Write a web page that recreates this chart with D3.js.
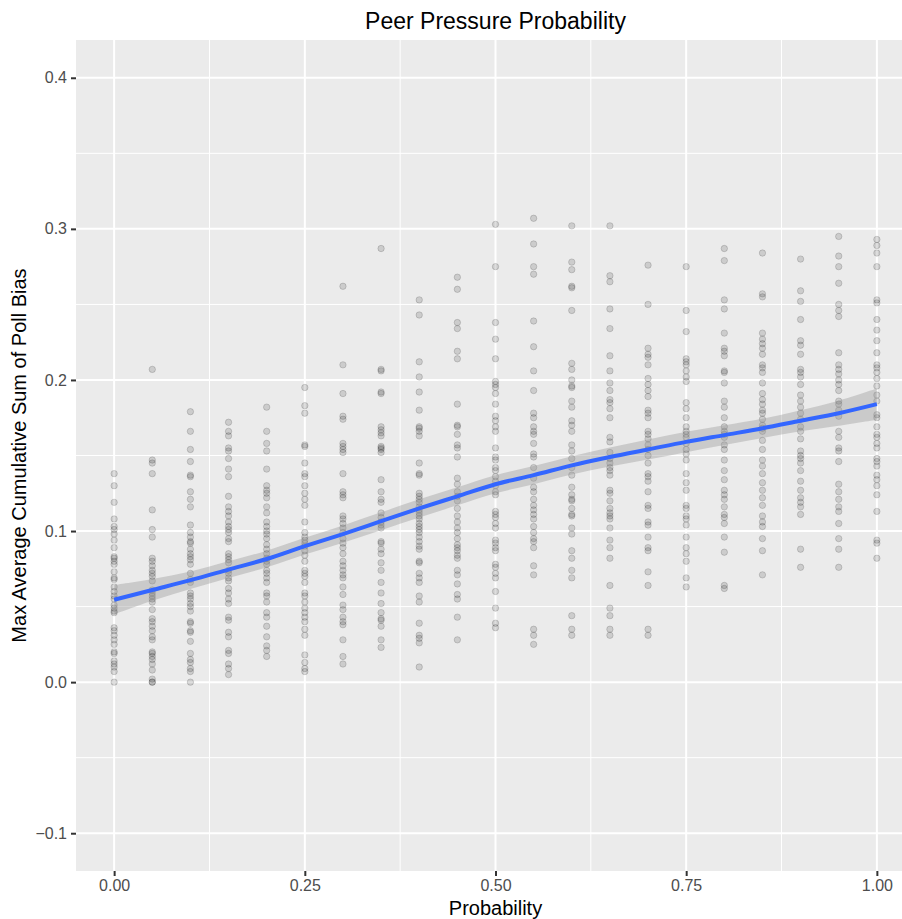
<!DOCTYPE html>
<html>
<head>
<meta charset="utf-8">
<script src="https://cdn.jsdelivr.net/npm/d3@7"></script>
<style>
    body { margin: 0; background: #ffffff; }
    svg { display: block; font-family: "Liberation Sans", Arial, sans-serif; }
</style>
</head>
<body>
<script>
'use strict';

// probability levels on the x axis
const probs = [0.00, 0.05, 0.10, 0.15, 0.20, 0.25, 0.30, 0.35, 0.40, 0.45, 0.50,
    0.55, 0.60, 0.65, 0.70, 0.75, 0.80, 0.85, 0.90, 0.95, 1.00];

// max average cumulative sum of poll bias, one list per probability level
const bias = [
    [0.138, 0.130, 0.119, 0.108, 0.103, 0.101, 0.098, 0.094, 0.089, 0.083, 0.082, 0.080, 0.078, 0.073, 0.069, 0.068, 0.063, 0.060, 0.057, 0.055, 0.051, 0.049, 0.047, 0.046, 0.036, 0.034, 0.031, 0.028, 0.025, 0.020, 0.019, 0.014, 0.012, 0.010, 0.007, 0.000],
    [0.207, 0.147, 0.145, 0.138, 0.114, 0.101, 0.096, 0.082, 0.080, 0.077, 0.074, 0.072, 0.070, 0.067, 0.061, 0.059, 0.057, 0.055, 0.053, 0.048, 0.042, 0.040, 0.037, 0.034, 0.030, 0.028, 0.020, 0.019, 0.017, 0.015, 0.012, 0.008, 0.002, 0.000, 0.000],
    [0.179, 0.166, 0.154, 0.146, 0.137, 0.136, 0.126, 0.121, 0.116, 0.104, 0.099, 0.096, 0.093, 0.092, 0.088, 0.085, 0.083, 0.081, 0.078, 0.072, 0.068, 0.066, 0.059, 0.057, 0.055, 0.052, 0.050, 0.047, 0.040, 0.039, 0.034, 0.033, 0.027, 0.019, 0.015, 0.013, 0.009, 0.007, 0.000],
    [0.172, 0.166, 0.163, 0.155, 0.153, 0.148, 0.141, 0.136, 0.123, 0.116, 0.113, 0.110, 0.106, 0.103, 0.101, 0.099, 0.095, 0.093, 0.085, 0.083, 0.081, 0.079, 0.074, 0.072, 0.069, 0.067, 0.062, 0.059, 0.055, 0.052, 0.043, 0.041, 0.033, 0.030, 0.021, 0.019, 0.012, 0.009, 0.005],
    [0.182, 0.166, 0.158, 0.153, 0.141, 0.130, 0.127, 0.125, 0.122, 0.116, 0.112, 0.106, 0.103, 0.100, 0.098, 0.095, 0.091, 0.088, 0.085, 0.082, 0.080, 0.078, 0.074, 0.072, 0.069, 0.066, 0.059, 0.057, 0.053, 0.046, 0.043, 0.037, 0.030, 0.024, 0.021, 0.017],
    [0.195, 0.183, 0.178, 0.157, 0.156, 0.145, 0.138, 0.136, 0.130, 0.125, 0.121, 0.117, 0.106, 0.099, 0.096, 0.094, 0.092, 0.090, 0.087, 0.084, 0.080, 0.074, 0.072, 0.070, 0.066, 0.059, 0.057, 0.053, 0.049, 0.046, 0.043, 0.040, 0.035, 0.031, 0.018, 0.013, 0.009, 0.007],
    [0.262, 0.210, 0.191, 0.176, 0.174, 0.158, 0.156, 0.154, 0.152, 0.138, 0.126, 0.124, 0.122, 0.110, 0.108, 0.105, 0.102, 0.099, 0.095, 0.092, 0.089, 0.085, 0.080, 0.077, 0.074, 0.071, 0.069, 0.063, 0.058, 0.051, 0.048, 0.043, 0.040, 0.038, 0.028, 0.017, 0.012],
    [0.287, 0.207, 0.206, 0.192, 0.191, 0.169, 0.167, 0.165, 0.163, 0.156, 0.155, 0.154, 0.152, 0.134, 0.126, 0.121, 0.119, 0.112, 0.109, 0.106, 0.104, 0.102, 0.093, 0.092, 0.088, 0.085, 0.079, 0.074, 0.066, 0.059, 0.052, 0.046, 0.042, 0.041, 0.037, 0.028, 0.023],
    [0.253, 0.243, 0.212, 0.202, 0.192, 0.180, 0.169, 0.168, 0.166, 0.163, 0.145, 0.138, 0.137, 0.125, 0.123, 0.121, 0.119, 0.116, 0.114, 0.112, 0.110, 0.108, 0.105, 0.103, 0.101, 0.099, 0.096, 0.093, 0.090, 0.088, 0.080, 0.079, 0.072, 0.069, 0.066, 0.057, 0.053, 0.039, 0.031, 0.029, 0.026, 0.010],
    [0.268, 0.260, 0.238, 0.234, 0.219, 0.214, 0.184, 0.170, 0.169, 0.164, 0.157, 0.155, 0.149, 0.135, 0.131, 0.126, 0.123, 0.120, 0.115, 0.110, 0.106, 0.102, 0.099, 0.095, 0.091, 0.089, 0.087, 0.084, 0.082, 0.074, 0.071, 0.065, 0.058, 0.055, 0.043, 0.028],
    [0.303, 0.275, 0.238, 0.227, 0.214, 0.199, 0.197, 0.195, 0.191, 0.184, 0.176, 0.173, 0.169, 0.166, 0.155, 0.149, 0.147, 0.142, 0.140, 0.136, 0.133, 0.130, 0.126, 0.124, 0.113, 0.111, 0.109, 0.105, 0.102, 0.094, 0.092, 0.089, 0.087, 0.078, 0.076, 0.072, 0.069, 0.060, 0.049, 0.039, 0.036],
    [0.307, 0.290, 0.275, 0.270, 0.239, 0.222, 0.206, 0.193, 0.178, 0.175, 0.169, 0.166, 0.164, 0.158, 0.151, 0.149, 0.142, 0.135, 0.129, 0.126, 0.121, 0.117, 0.114, 0.111, 0.108, 0.103, 0.099, 0.095, 0.093, 0.089, 0.077, 0.071, 0.035, 0.031, 0.025],
    [0.302, 0.278, 0.273, 0.262, 0.261, 0.246, 0.211, 0.207, 0.200, 0.196, 0.195, 0.186, 0.182, 0.173, 0.170, 0.166, 0.157, 0.153, 0.148, 0.142, 0.137, 0.129, 0.124, 0.121, 0.120, 0.115, 0.111, 0.110, 0.102, 0.098, 0.087, 0.082, 0.074, 0.069, 0.044, 0.035, 0.031],
    [0.302, 0.269, 0.265, 0.247, 0.234, 0.216, 0.206, 0.198, 0.193, 0.187, 0.185, 0.181, 0.175, 0.162, 0.159, 0.152, 0.148, 0.145, 0.142, 0.140, 0.137, 0.127, 0.125, 0.120, 0.115, 0.112, 0.110, 0.108, 0.102, 0.094, 0.089, 0.082, 0.064, 0.049, 0.044, 0.035, 0.031],
    [0.276, 0.250, 0.221, 0.217, 0.215, 0.210, 0.201, 0.197, 0.193, 0.189, 0.180, 0.178, 0.175, 0.166, 0.164, 0.161, 0.157, 0.154, 0.150, 0.145, 0.138, 0.136, 0.133, 0.126, 0.117, 0.115, 0.106, 0.104, 0.096, 0.089, 0.087, 0.073, 0.064, 0.035, 0.031],
    [0.275, 0.246, 0.232, 0.214, 0.212, 0.210, 0.206, 0.202, 0.199, 0.185, 0.181, 0.175, 0.169, 0.166, 0.164, 0.162, 0.158, 0.154, 0.151, 0.147, 0.138, 0.132, 0.127, 0.117, 0.115, 0.110, 0.108, 0.104, 0.096, 0.089, 0.085, 0.080, 0.069, 0.063],
    [0.287, 0.279, 0.253, 0.247, 0.231, 0.221, 0.219, 0.216, 0.206, 0.205, 0.198, 0.186, 0.182, 0.175, 0.169, 0.166, 0.164, 0.162, 0.157, 0.154, 0.147, 0.140, 0.134, 0.127, 0.124, 0.121, 0.116, 0.111, 0.109, 0.105, 0.096, 0.086, 0.064, 0.062],
    [0.284, 0.257, 0.255, 0.231, 0.227, 0.224, 0.221, 0.217, 0.210, 0.208, 0.205, 0.198, 0.191, 0.187, 0.184, 0.180, 0.178, 0.174, 0.170, 0.168, 0.166, 0.160, 0.154, 0.147, 0.143, 0.138, 0.132, 0.127, 0.122, 0.117, 0.110, 0.106, 0.103, 0.095, 0.087, 0.071],
    [0.280, 0.259, 0.252, 0.240, 0.226, 0.223, 0.217, 0.207, 0.205, 0.202, 0.197, 0.190, 0.186, 0.182, 0.178, 0.174, 0.169, 0.166, 0.161, 0.153, 0.150, 0.148, 0.145, 0.140, 0.133, 0.127, 0.122, 0.119, 0.116, 0.111, 0.088, 0.076],
    [0.295, 0.282, 0.275, 0.264, 0.250, 0.246, 0.242, 0.218, 0.210, 0.207, 0.204, 0.200, 0.197, 0.193, 0.186, 0.184, 0.180, 0.176, 0.166, 0.162, 0.155, 0.153, 0.146, 0.131, 0.126, 0.121, 0.116, 0.113, 0.105, 0.095, 0.088, 0.076],
    [0.293, 0.289, 0.284, 0.275, 0.253, 0.251, 0.240, 0.233, 0.226, 0.218, 0.210, 0.208, 0.205, 0.201, 0.196, 0.190, 0.186, 0.177, 0.175, 0.169, 0.164, 0.162, 0.158, 0.155, 0.148, 0.146, 0.143, 0.137, 0.134, 0.130, 0.124, 0.113, 0.094, 0.092, 0.082]
];

// loess fit and its confidence band, read at each probability level
const smoothFit = [0.0545, 0.0610, 0.0675, 0.0745, 0.0815, 0.0900, 0.0980, 0.1065, 0.1150, 0.1230, 0.1310,
    0.1370, 0.1435, 0.1490, 0.1540, 0.1590, 0.1635, 0.1680, 0.1730, 0.1780, 0.1840];
const smoothLow = [0.0448, 0.0538, 0.0617, 0.0690, 0.0760, 0.0845, 0.0923, 0.1006, 0.1090, 0.1170, 0.1250,
    0.1310, 0.1375, 0.1427, 0.1474, 0.1522, 0.1569, 0.1616, 0.1660, 0.1697, 0.1737];
const smoothHigh = [0.0642, 0.0682, 0.0733, 0.0800, 0.0870, 0.0955, 0.1037, 0.1124, 0.1210, 0.1290, 0.1370,
    0.1430, 0.1495, 0.1553, 0.1606, 0.1658, 0.1701, 0.1744, 0.1800, 0.1863, 0.1943];

// axis ticks
const xTicks = [0.00, 0.25, 0.50, 0.75, 1.00];
const xMinorTicks = [0.125, 0.375, 0.625, 0.875];
const yTicks = [-0.1, 0.0, 0.1, 0.2, 0.3, 0.4];
const yMinorTicks = [-0.05, 0.05, 0.15, 0.25, 0.35];

(function () {

    const width = 902;
    const height = 919;
    const panel = { left: 76, top: 40, right: 915, bottom: 871 };

    let svgContainer = "";

    window.onload = function () {
        svgContainer = d3.select('body')
            .append('svg')
            .attr('width', width)
            .attr('height', height);

        let map = drawAxes();
        plotData(map);
        makeLabels();
    }

    // grey panel, grid lines and the two axes
    function drawAxes() {
        let xScale = d3.scaleLinear()
            .domain([-0.05, 1.05]) // ggplot's 5% expansion
            .range([panel.left, panel.right]);

        let yScale = d3.scaleLinear()
            .domain([-0.125, 0.425])
            .range([panel.bottom, panel.top]);

        svgContainer.append('rect')
            .attr('x', panel.left)
            .attr('y', panel.top)
            .attr('width', panel.right - panel.left)
            .attr('height', panel.bottom - panel.top)
            .attr('fill', '#EBEBEB');

        let grid = svgContainer.append('g');

        // minor grid first, majors on top
        grid.selectAll('.xminor')
            .data(xMinorTicks)
            .enter()
            .append('line')
            .attr('x1', (d) => xScale(d))
            .attr('x2', (d) => xScale(d))
            .attr('y1', panel.top)
            .attr('y2', panel.bottom)
            .attr('stroke', '#ffffff')
            .attr('stroke-width', 1);

        grid.selectAll('.yminor')
            .data(yMinorTicks)
            .enter()
            .append('line')
            .attr('x1', panel.left)
            .attr('x2', panel.right)
            .attr('y1', (d) => yScale(d))
            .attr('y2', (d) => yScale(d))
            .attr('stroke', '#ffffff')
            .attr('stroke-width', 1);

        grid.selectAll('.xmajor')
            .data(xTicks)
            .enter()
            .append('line')
            .attr('x1', (d) => xScale(d))
            .attr('x2', (d) => xScale(d))
            .attr('y1', panel.top)
            .attr('y2', panel.bottom)
            .attr('stroke', '#ffffff')
            .attr('stroke-width', 2);

        grid.selectAll('.ymajor')
            .data(yTicks)
            .enter()
            .append('line')
            .attr('x1', panel.left)
            .attr('x2', panel.right)
            .attr('y1', (d) => yScale(d))
            .attr('y2', (d) => yScale(d))
            .attr('stroke', '#ffffff')
            .attr('stroke-width', 2);

        let xAxis = d3.axisBottom(xScale)
            .tickValues(xTicks)
            .tickFormat(d3.format('.2f'))
            .tickSize(5)
            .tickPadding(4);

        let gx = svgContainer.append('g')
            .attr('transform', 'translate(0,' + panel.bottom + ')')
            .call(xAxis);

        let yAxis = d3.axisLeft(yScale)
            .tickValues(yTicks)
            .tickFormat(d3.format('.1f'))
            .tickSize(5)
            .tickPadding(4);

        let gy = svgContainer.append('g')
            .attr('transform', 'translate(' + panel.left + ',0)')
            .call(yAxis);

        [gx, gy].forEach((g) => {
            g.select('.domain').remove();
            g.selectAll('.tick line').attr('stroke', '#333333').attr('stroke-width', 2);
            g.selectAll('.tick text')
                .attr('fill', '#4D4D4D')
                .style('font-size', '16px')
                .style('font-family', '"Liberation Sans", Arial, sans-serif');
        });

        return { xScale: xScale, yScale: yScale };
    }

    // scatter points, confidence band and smooth line
    function plotData(map) {
        let x = map.xScale;
        let y = map.yScale;

        let points = [];
        probs.forEach((p, i) => {
            bias[i].forEach((v) => points.push({ prob: p, value: v }));
        });

        svgContainer.append('g')
            .selectAll('circle')
            .data(points)
            .enter()
            .append('circle')
            .attr('cx', (d) => x(d.prob))
            .attr('cy', (d) => y(d.value))
            .attr('r', 3.2)
            .attr('fill', 'rgba(0,0,0,0.13)')
            .attr('stroke', 'rgba(0,0,0,0.15)')
            .attr('stroke-width', 1);

        let band = d3.area()
            .x((d, i) => x(probs[i]))
            .y0((d, i) => y(smoothLow[i]))
            .y1((d, i) => y(smoothHigh[i]))
            .curve(d3.curveCatmullRom);

        svgContainer.append('path')
            .datum(probs)
            .attr('d', band)
            .attr('fill', '#999999')
            .attr('fill-opacity', 0.4);

        let line = d3.line()
            .x((d, i) => x(probs[i]))
            .y((d, i) => y(smoothFit[i]))
            .curve(d3.curveCatmullRom);

        svgContainer.append('path')
            .datum(probs)
            .attr('d', line)
            .attr('fill', 'none')
            .attr('stroke', '#3366FF')
            .attr('stroke-width', 4);
    }

    // title and axis titles
    function makeLabels() {
        let midX = (panel.left + panel.right) / 2;

        svgContainer.append('text')
            .attr('x', midX)
            .attr('y', 29)
            .attr('text-anchor', 'middle')
            .style('font-size', '23px')
            .text('Peer Pressure Probability');

        svgContainer.append('text')
            .attr('x', midX)
            .attr('y', 915)
            .attr('text-anchor', 'middle')
            .style('font-size', '20px')
            .text('Probability');

        svgContainer.append('text')
            .attr('transform', 'translate(26,' + ((panel.top + panel.bottom) / 2) + ')rotate(-90)')
            .attr('text-anchor', 'middle')
            .style('font-size', '20px')
            .text('Max Average Cumulative Sum of Poll Bias');
    }

})();
</script>
</body>
</html>
